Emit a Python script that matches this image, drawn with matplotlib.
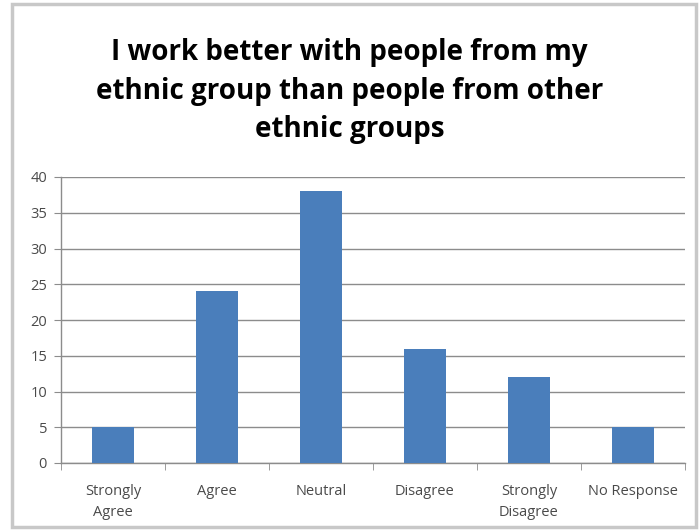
import matplotlib
matplotlib.use("Agg")
import matplotlib.pyplot as plt
from matplotlib.patches import Rectangle

categories = ["Strongly\nAgree", "Agree", "Neutral", "Disagree", "Strongly\nDisagree", "No Response"]
values = [5, 24, 38, 16, 12, 5]
yticks = [0, 5, 10, 15, 20, 25, 30, 35, 40]
title = "I work better with people from my\nethnic group than people from other\nethnic groups"

plt.rcParams['font.family'] = ['Open Sans', 'DejaVu Sans']

fig = plt.figure(figsize=(6.99, 5.31), dpi=100)
ax = fig.add_axes([61/699, 1 - 463/531, (685 - 61)/699, (463 - 177)/531])

x = list(range(len(categories)))
ax.bar(x, values, width=0.4, color="#4a7ebb", zorder=3)

ax.set_xlim(-0.5, len(categories) - 0.5)
ax.set_ylim(0, 40)
ax.set_yticks(yticks)
ax.set_yticklabels([str(t) for t in yticks], fontsize=10.5, color="#4a4a4a")
ax.yaxis.grid(True, color="#8c8c8c", linewidth=1.0, zorder=0)
ax.tick_params(axis='y', length=5, color="#8c8c8c", pad=5)

ax.set_xticks(x)
ax.set_xticklabels(categories, fontsize=10.5, color="#4a4a4a", linespacing=1.6)
ax.set_xticks([i + 0.5 for i in range(-1, len(categories))], minor=True)
ax.tick_params(axis='x', which='major', length=0, pad=15)
ax.tick_params(axis='x', which='minor', length=5, color="#8c8c8c")

for s in ['top', 'right']:
    ax.spines[s].set_visible(False)
for s in ['left', 'bottom']:
    ax.spines[s].set_color("#8c8c8c")
    ax.spines[s].set_linewidth(1.0)

fig.text(0.5, 1 - 91/531, title, ha='center', va='center', fontsize=20,
         fontweight='bold', color="#000000", linespacing=1.45)

fig.patches.append(Rectangle((12/699, 4/531), (696 - 12)/699, (527 - 4)/531,
                             transform=fig.transFigure, fill=False,
                             edgecolor="#c8c8c8", linewidth=2.5))

fig.savefig("out.png", dpi=100)
